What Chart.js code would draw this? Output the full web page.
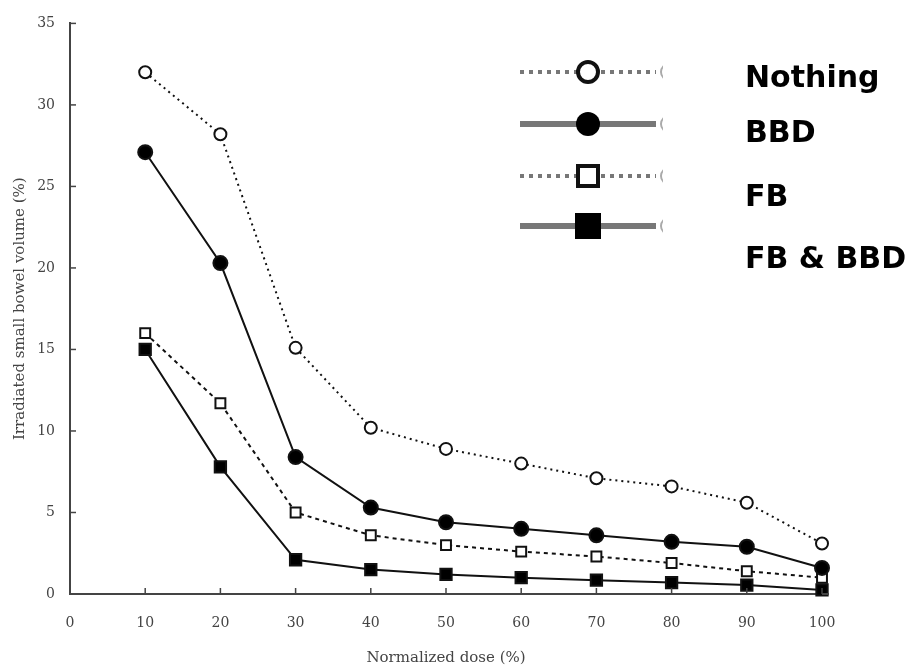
<!DOCTYPE html>
<html>
<head>
<meta charset="utf-8">
<script src="https://cdn.jsdelivr.net/npm/chart.js@4"></script>
<style>
  html, body { margin: 0; padding: 0; background: #fff; }
  #wrap { width: 907px; height: 667px; position: relative; }
</style>
</head>
<body>
<div id="wrap"><canvas id="c" width="907" height="667"></canvas></div>
<script>
// ---- data ----
const doses = [10, 20, 30, 40, 50, 60, 70, 80, 90, 100];
const nothing = [32.0, 28.2, 15.1, 10.2, 8.9, 8.0, 7.1, 6.6, 5.6, 3.1];
const bbd = [27.1, 20.3, 8.4, 5.3, 4.4, 4.0, 3.6, 3.2, 2.9, 1.6];
const fb = [16.0, 11.7, 5.0, 3.6, 3.0, 2.6, 2.3, 1.9, 1.4, 1.0];
const fbBbd = [15.0, 7.8, 2.1, 1.5, 1.2, 1.0, 0.85, 0.7, 0.55, 0.25];
const seriesNames = ['Nothing', 'BBD', 'FB', 'FB & BBD'];
const xTitle = 'Normalized dose (%)';
const yTitle = 'Irradiated small bowel volume (%)';

const pts = arr => doses.map((d, i) => ({ x: d, y: arr[i] }));

const serif = '"DejaVu Serif", "Liberation Serif", serif';
const axisColor = '#444';
const textColor = '#444';

const styles = [
  { dash: [2, 4], style: 'circle', fill: '#fff', r: 6 },
  { dash: [], style: 'circle', fill: '#000', r: 7 },
  { dash: [4, 4], style: 'rect', fill: '#fff', r: 7 },
  { dash: [], style: 'rect', fill: '#000', r: 8 }
];
const seriesData = [nothing, bbd, fb, fbBbd];

const datasets = seriesData.map((arr, i) => ({
  label: seriesNames[i],
  data: pts(arr),
  borderColor: '#111',
  borderWidth: 2,
  borderDash: styles[i].dash,
  pointStyle: styles[i].style,
  pointRadius: styles[i].r,
  pointBackgroundColor: styles[i].fill,
  pointBorderColor: '#111',
  pointBorderWidth: 2,
  tension: 0,
  clip: false
}));

// inward ticks + custom legend
const decor = {
  id: 'decor',
  afterDraw(chart) {
    const ctx = chart.ctx;
    const xs = chart.scales.x, ys = chart.scales.y;
    ctx.save();
    ctx.strokeStyle = axisColor;
    ctx.lineWidth = 1.5;
    ys.ticks.forEach(t => {
      const y = ys.getPixelForValue(t.value);
      ctx.beginPath(); ctx.moveTo(xs.left, y); ctx.lineTo(xs.left + 6, y); ctx.stroke();
    });
    xs.ticks.forEach(t => {
      const x = xs.getPixelForValue(t.value);
      ctx.beginPath(); ctx.moveTo(x, ys.bottom); ctx.lineTo(x, ys.bottom - 6); ctx.stroke();
    });
    ctx.lineWidth = 2;
    ctx.beginPath(); ctx.moveTo(xs.right, ys.bottom); ctx.lineTo(xs.right + 7, ys.bottom); ctx.stroke();

    // legend samples
    const rows = [72, 124, 176, 226];
    const lx0 = 520, lx1 = 656, mx = 588;
    rows.forEach((ry, i) => {
      const st = styles[i];
      ctx.save();
      ctx.strokeStyle = '#777';
      ctx.lineWidth = st.dash.length ? 4 : 6;
      ctx.setLineDash(st.dash.length ? [4, 5] : []);
      ctx.beginPath(); ctx.moveTo(lx0, ry); ctx.lineTo(lx1, ry); ctx.stroke();
      ctx.setLineDash([]);
      ctx.save();
      ctx.beginPath(); ctx.rect(640, ry - 15, 23, 30); ctx.clip();
      ctx.strokeStyle = '#aaa'; ctx.lineWidth = 2;
      ctx.beginPath(); ctx.arc(669, ry, 8, 0, Math.PI * 2); ctx.stroke();
      ctx.restore();
      ctx.lineWidth = 4;
      ctx.strokeStyle = '#111';
      ctx.fillStyle = st.fill;
      if (st.style === 'circle') {
        ctx.beginPath(); ctx.arc(mx, ry, st.fill === '#fff' ? 10 : 12, 0, Math.PI * 2);
        ctx.fill(); if (st.fill === '#fff') ctx.stroke();
      } else {
        const h = st.fill === '#fff' ? 10 : 13;
        ctx.beginPath(); ctx.rect(mx - h, ry - h, 2 * h, 2 * h);
        ctx.fill(); if (st.fill === '#fff') ctx.stroke();
      }
      ctx.restore();
    });
    ctx.fillStyle = '#000';
    ctx.font = 'bold 30px "DejaVu Sans"';
    ctx.textAlign = 'left';
    ctx.textBaseline = 'alphabetic';
    const baselines = [87, 142, 206, 268];
    seriesNames.forEach((n, i) => ctx.fillText(n, 745, baselines[i]));
    ctx.restore();
  }
};

new Chart(document.getElementById('c'), {
  type: 'line',
  data: { datasets },
  plugins: [decor],
  options: {
    responsive: false,
    animation: false,
    layout: { padding: { left: 0, right: 85, top: 22, bottom: 0 } },
    plugins: { legend: { display: false }, tooltip: { enabled: false } },
    scales: {
      x: {
        type: 'linear', min: 0, max: 100,
        ticks: { stepSize: 10, color: textColor, font: { family: serif, size: 14 }, padding: 21 },
        grid: { display: false, drawTicks: false },
        border: { color: axisColor, width: 2 },
        title: { display: true, text: xTitle, color: textColor, font: { family: serif, size: 15 }, padding: { top: 0, bottom: 0 } },
        afterFit(s) { s.height = 73; }
      },
      y: {
        min: 0, max: 35,
        ticks: { stepSize: 5, color: textColor, font: { family: serif, size: 14 }, padding: 15 },
        grid: { display: false, drawTicks: false },
        border: { color: axisColor, width: 2 },
        title: { display: true, text: yTitle, color: textColor, font: { family: serif, size: 15 }, padding: { top: 11, bottom: 0 } },
        afterFit(s) { s.width = 70; }
      }
    }
  }
});
</script>
</body>
</html>
